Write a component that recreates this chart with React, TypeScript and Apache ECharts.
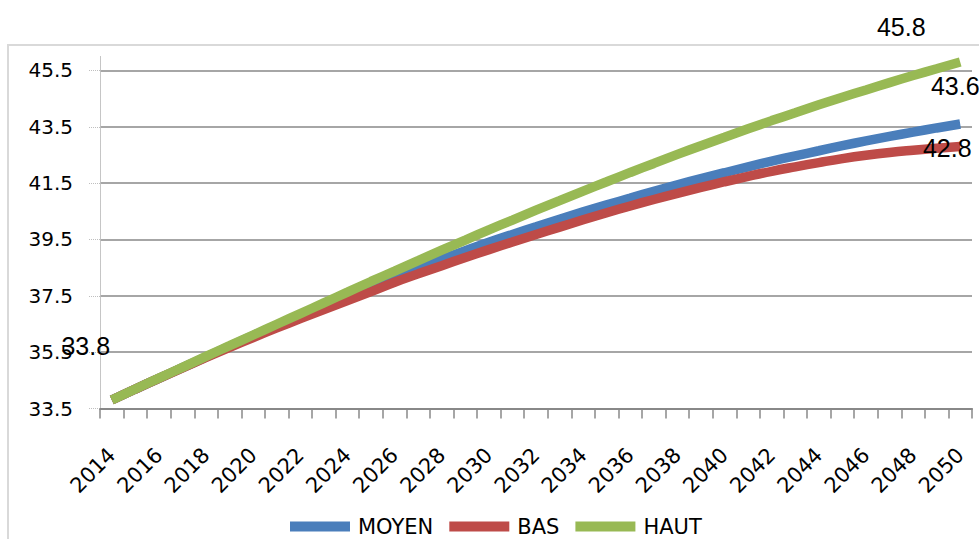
import React, { useEffect, useRef } from "react";
import * as echarts from "echarts";

const years = [
  "2014", "2015", "2016", "2017", "2018", "2019", "2020", "2021", "2022", "2023",
  "2024", "2025", "2026", "2027", "2028", "2029", "2030", "2031", "2032", "2033",
  "2034", "2035", "2036", "2037", "2038", "2039", "2040", "2041", "2042", "2043",
  "2044", "2045", "2046", "2047", "2048", "2049", "2050",
];

const moyen = [
  33.8, 34.19, 34.57, 34.95, 35.33, 35.71, 36.09, 36.46, 36.83, 37.19,
  37.54, 37.88, 38.2, 38.5, 38.8, 39.1, 39.4, 39.68, 39.95, 40.22,
  40.48, 40.73, 40.97, 41.21, 41.44, 41.66, 41.87, 42.08, 42.28, 42.47,
  42.65, 42.83, 43.0, 43.16, 43.31, 43.46, 43.6,
];

const bas = [
  33.8, 34.19, 34.57, 34.94, 35.31, 35.67, 36.02, 36.36, 36.69, 37.01,
  37.33, 37.65, 37.98, 38.28, 38.57, 38.86, 39.14, 39.41, 39.68, 39.94,
  40.2, 40.45, 40.69, 40.92, 41.14, 41.35, 41.55, 41.74, 41.92, 42.08,
  42.23, 42.37, 42.49, 42.59, 42.67, 42.74, 42.8,
];

const haut = [
  33.8, 34.19, 34.58, 34.96, 35.35, 35.73, 36.11, 36.49, 36.87, 37.25,
  37.63, 38.01, 38.38, 38.75, 39.12, 39.48, 39.84, 40.19, 40.54, 40.88,
  41.22, 41.55, 41.88, 42.2, 42.52, 42.83, 43.13, 43.43, 43.72, 44.0,
  44.28, 44.55, 44.81, 45.07, 45.32, 45.56, 45.8,
];

const seriesNames = ["MOYEN", "BAS", "HAUT"];
const seriesColors = ["#4a7ebb", "#be4b48", "#98b954"];

const labelFont = "'Liberation Sans', Arial, sans-serif";
const axisFont = "'DejaVu Sans', Verdana, sans-serif";

function withLabels(values: number[], labels: { [idx: number]: [number, number] }) {
  return values.map((v, i) => {
    const off = labels[i];
    if (!off) return v;
    return {
      value: v,
      label: {
        show: true,
        position: "inside",
        offset: off,
        formatter: (p: any) => String(p.value),
        color: "#000",
        opacity: 1,
        fontFamily: labelFont,
        fontSize: 25,
        align: "center",
        verticalAlign: "middle",
      },
    };
  });
}

export default function App() {
  const ref = useRef<HTMLDivElement>(null);

  useEffect(() => {
    if (!ref.current) return;
    const chart = echarts.init(ref.current, undefined, { renderer: "svg" });
    const last = years.length - 1;
    const datasets = [
      withLabels(moyen, { [last]: [-5, -38] }),
      withLabels(bas, { [last]: [-13, 1] }),
      withLabels(haut, { 0: [-26, -54], [last]: [-59, -35] }),
    ];
    chart.setOption({
      animation: false,
      backgroundColor: "#ffffff",
      graphic: [
        {
          type: "rect",
          silent: true,
          z: -10,
          shape: { x: 8, y: 45, width: 1000, height: 600 },
          style: { fill: "none", stroke: "#d9d9d9", lineWidth: 2 },
        },
      ],
      grid: { left: 100, right: 7, top: 56.4, bottom: 130.5, containLabel: false },
      legend: {
        data: seriesNames,
        left: 290,
        top: 516,
        padding: 0,
        icon: "rect",
        itemWidth: 60,
        itemHeight: 10,
        itemGap: 16,
        textStyle: { fontFamily: axisFont, fontSize: 21, color: "#000", padding: [0, 0, 0, 3] },
      },
      xAxis: {
        type: "category",
        data: years,
        boundaryGap: true,
        axisLine: { show: true, lineStyle: { color: "#888888", width: 2 } },
        axisTick: { show: true, interval: 0, length: 10, lineStyle: { color: "#888888", width: 1.5 } },
        axisLabel: {
          interval: 1,
          rotate: 45,
          margin: 43,
          fontFamily: axisFont,
          fontSize: 21,
          color: "#000",
        },
        splitLine: { show: false },
      },
      yAxis: {
        type: "value",
        min: 33.5,
        max: 46,
        interval: 2,
        axisLine: { show: true, lineStyle: { color: "#bfbfbf", width: 1, type: "dotted" } },
        axisTick: { show: true, length: 11, lineStyle: { color: "#bfbfbf", width: 1, type: "dotted" } },
        axisLabel: {
          showMaxLabel: false,
          margin: 27,
          fontFamily: axisFont,
          fontSize: 20,
          color: "#000",
          formatter: (v: number) => v.toFixed(1),
        },
        splitLine: { show: true, showMaxLine: false, lineStyle: { color: "#888888", width: 1.5 } },
      },
      series: seriesNames.map((name, i) => ({
        name,
        type: "line",
        data: datasets[i],
        smooth: true,
        symbol: "circle",
        symbolSize: 0,
        showSymbol: true,
        itemStyle: { color: seriesColors[i], opacity: 1 },
        lineStyle: { color: seriesColors[i], width: 9.5, cap: "butt" },
        label: { show: false },
        emphasis: { disabled: true },
      })),
    });
    return () => chart.dispose();
  }, []);

  return (
    <div
      ref={ref}
      style={{ position: "fixed", left: 0, top: 0, width: 979, height: 539 }}
    />
  );
}
